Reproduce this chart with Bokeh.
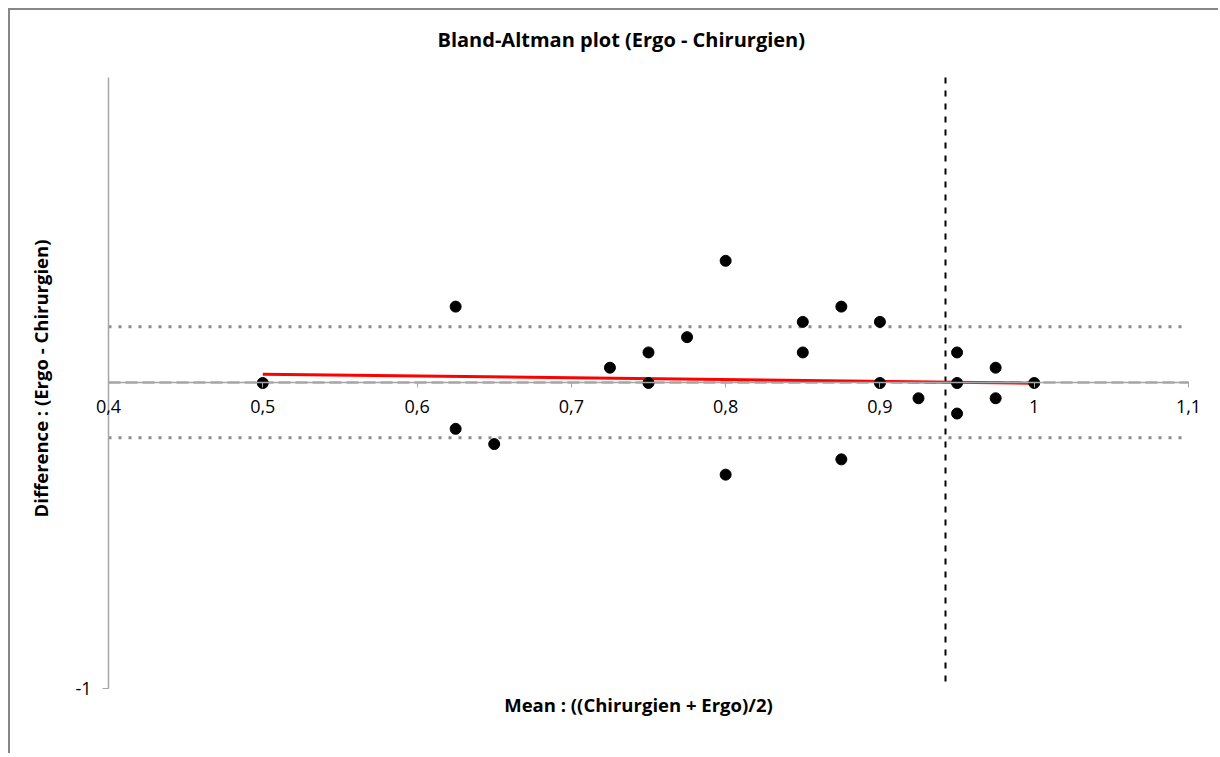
from bokeh.plotting import figure
from bokeh.models import FixedTicker, Range1d, LinearAxis, Label
from bokeh.embed import file_html
from bokeh.resources import INLINE

# ---- data ----
mean_vals = [0.5, 0.625, 0.625, 0.65, 0.725, 0.75, 0.75, 0.775, 0.8, 0.8,
             0.85, 0.85, 0.875, 0.875, 0.9, 0.9, 0.925, 0.95, 0.95, 0.95,
             0.975, 0.975, 1.0]
diff_vals = [0.0, 0.25, -0.15, -0.2, 0.05, 0.1, 0.0, 0.15, 0.4, -0.3,
             0.2, 0.1, 0.25, -0.25, 0.2, 0.0, -0.05, 0.1, 0.0, -0.1,
             0.05, -0.05, 0.0]
mean_diff = 0.002
upper_loa = 0.184
lower_loa = -0.179
vline_x = 0.9425
reg_x = [0.5, 1.0]
reg_y = [0.029, -0.001]
x_ticks = [0.4, 0.5, 0.6, 0.7, 0.8, 0.9, 1.0, 1.1]
x_tick_labels = ["0,4", "0,5", "0,6", "0,7", "0,8", "0,9", "1", "1,1"]
y_ticks = [-1]
y_tick_labels = ["-1"]

FONT = "Open Sans"
x_lo, x_hi = x_ticks[0], x_ticks[-1]
y_lo, y_hi = -1, 1
# a little room around the axes so that edge labels are not clipped
pad_left, pad_right, pad_bottom, pad_top = 0.024629, 0.011667, 0.0262, 0.0556

p = figure(width=1210, height=745, output_backend="svg", toolbar_location=None,
           x_range=Range1d(x_lo - pad_left, x_hi + pad_right),
           y_range=Range1d(y_lo - pad_bottom, y_hi + pad_top),
           min_border_left=60, min_border_right=14, min_border_top=50,
           min_border_bottom=59,
           title="Bland-Altman plot (Ergo - Chirurgien)")
p.styles = {"border-left": "2px solid #878787", "border-top": "2px solid #878787",
            "margin-left": "8px", "margin-top": "8px"}
p.outline_line_color = None
p.xgrid.visible = False
p.ygrid.visible = False

p.title.text_font = FONT
p.title.text_font_size = "20px"
p.title.text_font_style = "bold"
p.title.text_color = "#000000"
p.title.align = "left"
p.title.offset = 367
p.title.standoff = 15

# x axis crossing at y = 0 (line and ticks; labels drawn as Labels)
xa = p.xaxis[0]
xa.fixed_location = 0
xa.bounds = (x_lo, x_hi)
xa.ticker = FixedTicker(ticks=x_ticks)
xa.axis_line_color = "#a6a6a6"
xa.axis_line_width = 1.5
xa.major_tick_line_color = "#a6a6a6"
xa.major_tick_out = 5
xa.major_tick_in = 0
xa.minor_tick_line_color = None
xa.major_label_text_color = None

for t, s in zip(x_ticks, x_tick_labels):
    p.add_layout(Label(x=t, y=0, text=s, text_align="center", text_baseline="middle",
                       y_offset=-24, text_font=FONT, text_font_size="18px",
                       text_color="#000000"))

# bottom axis carrying only the title
xt = LinearAxis(ticker=FixedTicker(ticks=[]), axis_line_color=None,
                major_tick_line_color=None, minor_tick_line_color=None,
                axis_label="Mean : ((Chirurgien + Ergo)/2)",
                axis_label_text_font=FONT, axis_label_text_font_size="18.5px",
                axis_label_text_font_style="bold", axis_label_text_color="#000000",
                axis_label_standoff=-5)
p.add_layout(xt, "below")

# left axis carrying only the title
yt = p.yaxis[0]
yt.ticker = FixedTicker(ticks=[])
yt.axis_line_color = None
yt.major_tick_line_color = None
yt.minor_tick_line_color = None
yt.axis_label = "Difference : (Ergo - Chirurgien)"
yt.axis_label_text_font = FONT
yt.axis_label_text_font_size = "18.5px"
yt.axis_label_text_font_style = "bold"
yt.axis_label_text_color = "#000000"
yt.axis_label_standoff = 18

# y axis at x = 0.4
ya = LinearAxis(fixed_location=x_lo, bounds=(y_lo, y_hi),
                ticker=FixedTicker(ticks=y_ticks),
                major_label_overrides={t: s for t, s in zip(y_ticks, y_tick_labels)},
                axis_line_color="#a6a6a6", axis_line_width=1.5,
                major_tick_line_color="#a6a6a6", major_tick_out=6, major_tick_in=0,
                minor_tick_line_color=None, major_label_text_font=FONT,
                major_label_text_font_size="18px", major_label_text_color="#000000",
                major_label_standoff=11)
p.add_layout(ya, "left")

# limits of agreement
p.segment(x0=[x_lo, x_lo], x1=[x_hi, x_hi], y0=[upper_loa, lower_loa],
          y1=[upper_loa, lower_loa], line_color="#8c8c8c", line_width=3,
          line_dash="3 7")
# mean difference
p.segment(x0=[x_lo], x1=[x_hi], y0=[mean_diff], y1=[mean_diff],
          line_color="#000000", line_width=1.5, line_dash="12 5")
# vertical dashed line
p.segment(x0=[vline_x], x1=[vline_x], y0=[y_hi], y1=[y_lo],
          line_color="#000000", line_width=2, line_dash="6 7")

# regression line
p.line(reg_x, reg_y, line_color="#ff0000", line_width=3)

# points
p.scatter(mean_vals, diff_vals, size=11, fill_color="#000000", line_color="#000000")

open("out.html", "w").write(file_html(p, INLINE))
